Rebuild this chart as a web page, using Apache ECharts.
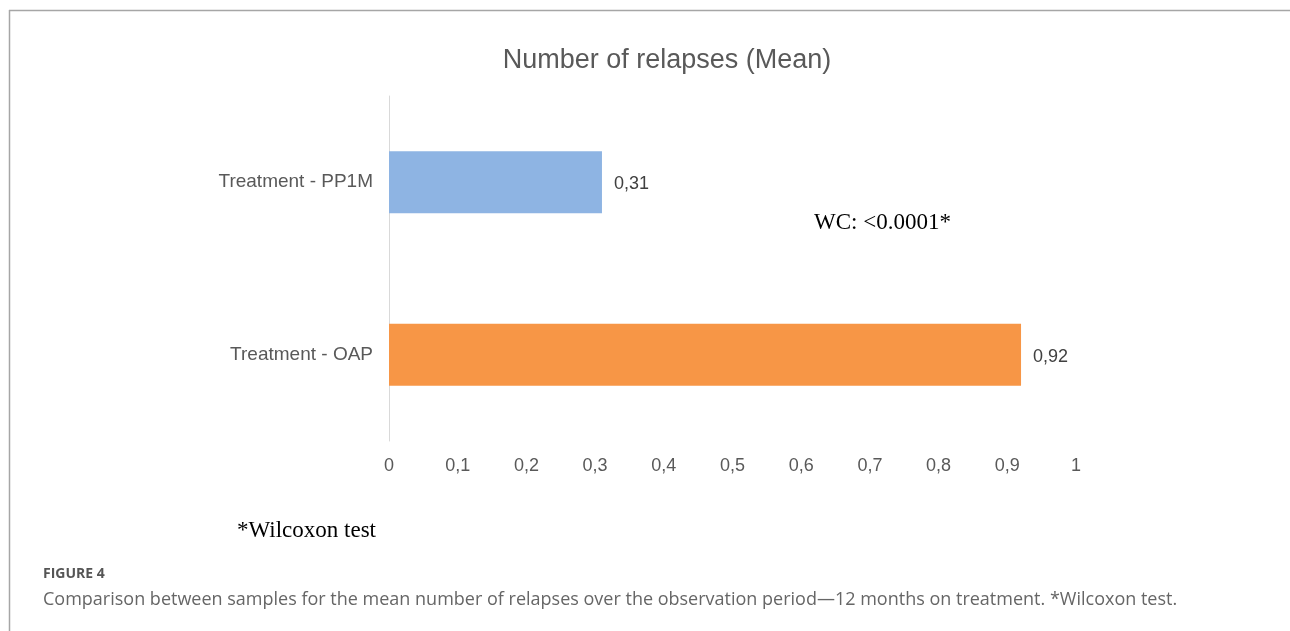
<!DOCTYPE html>
<html>
<head>
<meta charset="utf-8">
<script src="https://cdn.jsdelivr.net/npm/echarts@6/dist/echarts.min.js"></script>
<style>
html,body{margin:0;padding:0;background:#fff;}
#c{width:1290px;height:631px;}
</style>
</head>
<body>
<div id="c"></div>
<script>
const categories = ['Treatment - OAP', 'Treatment - PP1M'];
const values = [0.92, 0.31];
const barColors = ['#F79646', '#8EB4E3'];
const xTicks = [0, 0.1, 0.2, 0.3, 0.4, 0.5, 0.6, 0.7, 0.8, 0.9, 1];
const titleText = 'Number of relapses (Mean)';
const testText = 'WC: <0.0001*';
const footText = '*Wilcoxon test';
const figLabel = 'FIGURE 4';
const captionText = 'Comparison between samples for the mean number of relapses over the observation period\u201412 months on treatment. *Wilcoxon test.';

const comma = v => String(v).replace('.', ',');

const chart = echarts.init(document.getElementById('c'), null, {renderer: 'canvas'});
chart.setOption({
  animation: false,
  backgroundColor: '#fff',
  title: {
    text: titleText,
    left: 662, top: 42, textAlign: 'center',
    textStyle: {fontFamily: 'Liberation Sans, Arial', fontSize: 27, fontWeight: 'normal', color: '#595959'}
  },
  grid: {left: 389, right: 214, top: 96, bottom: 190, containLabel: false},
  xAxis: {
    type: 'value', min: 0, max: 1, interval: 0.1,
    axisLine: {show: false}, axisTick: {show: false}, splitLine: {show: false},
    axisLabel: {
      margin: 16, fontFamily: 'Liberation Sans, Arial', fontSize: 18, color: '#595959',
      formatter: v => comma(Math.round(v * 10) / 10)
    }
  },
  yAxis: {
    type: 'category', data: categories,
    axisLine: {show: true, lineStyle: {color: '#D9D9D9', width: 1}},
    axisTick: {show: false},
    axisLabel: {margin: 16, fontFamily: 'Liberation Sans, Arial', fontSize: 19, color: '#595959'}
  },
  series: [{
    type: 'bar',
    data: values.map((v, i) => ({value: v, itemStyle: {color: barColors[i]}})),
    barCategoryGap: '64%',
    label: {
      show: true, position: 'right', distance: 12, offset: [0, 2],
      fontFamily: 'Liberation Sans, Arial', fontSize: 18, color: '#404040',
      formatter: p => comma(p.value)
    }
  }],
  graphic: [
    {type: 'line', shape: {x1: 9, y1: 10.5, x2: 1290, y2: 10.5}, style: {stroke: '#A6A6A6', lineWidth: 1.5}},
    {type: 'line', shape: {x1: 9.5, y1: 10, x2: 9.5, y2: 631}, style: {stroke: '#A6A6A6', lineWidth: 1.5}},
    {type: 'text', left: 814, top: 211, style: {text: testText, font: '23px "Liberation Serif", "Times New Roman", serif', fill: '#000'}},
    {type: 'text', left: 237, top: 519, style: {text: footText, font: '23px "Liberation Serif", "Times New Roman", serif', fill: '#000'}},
    {type: 'text', left: 43, top: 567, style: {text: figLabel, font: 'bold 14px "Open Sans", sans-serif', fill: '#555'}},
    {type: 'text', left: 43, top: 591, style: {text: captionText, font: '18px "Open Sans", sans-serif', fill: '#666'}}
  ]
});
</script>
</body>
</html>
